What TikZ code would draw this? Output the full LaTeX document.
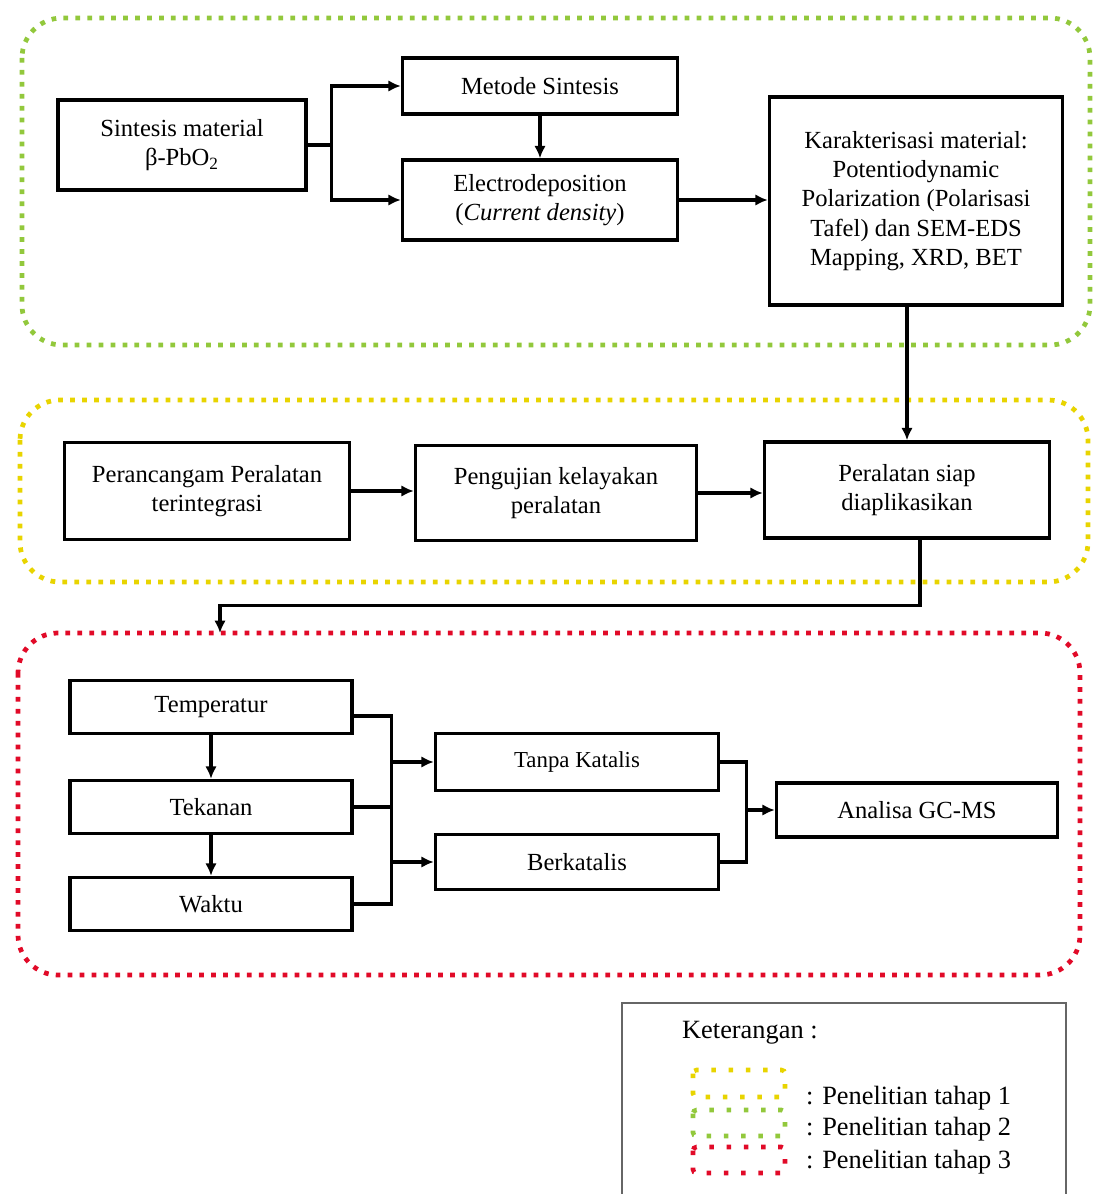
\documentclass[tikz,border=0pt]{standalone}
\usepackage{fontspec}
\setmainfont{Liberation Serif}
\usetikzlibrary{arrows.meta}
\definecolor{hijau}{RGB}{146,200,60}
\definecolor{kuning}{RGB}{232,212,0}
\definecolor{merah}{RGB}{225,10,40}
\tikzset{
  blok/.style={draw, line width=2pt, align=center, inner sep=2pt,
    font=\fontsize{14}{16.7}\selectfont},
  garis/.style={line width=1.9pt},
  panah/.style={line width=1.9pt, -{Latex[length=7pt,width=6.5pt]}},
  bingkai/.style={line width=2.7pt, dash pattern=on 2.7pt off 4.1pt, rounded corners=0.8cm},
  contoh/.style={line width=2.6pt, dash pattern=on 2.6pt off 7.2pt, rounded corners=2pt},
}
\begin{document}
\begin{tikzpicture}[x=0.02cm, y=-0.02cm]
  \useasboundingbox (0,0) rectangle (1096,1194);
  % frames
  \draw[bingkai, hijau] (22,18) rectangle (1090,345);
  \draw[bingkai, kuning] (20,400) rectangle (1088,582);
  \draw[bingkai, merah] (18,633) rectangle (1080,975);

  % tahap 2
  \node[blok, minimum width=4.96cm, minimum height=1.8cm] (sintesis) at (182,145)
    {Sintesis material\\ β-PbO\textsubscript{2}};
  \node[blok, minimum width=5.5cm, minimum height=1.12cm] (metode) at (540,86) {Metode Sintesis};
  \node[blok, minimum width=5.5cm, minimum height=1.6cm] (elektro) at (540,200)
    {Electrodeposition\\ (\textit{Current density})};
  \node[blok, minimum width=5.86cm, minimum height=4.16cm] (karakter) at (916,201)
    {Karakterisasi material:\\ Potentiodynamic\\ Polarization (Polarisasi\\ Tafel) dan SEM-EDS\\ Mapping, XRD, BET};
  \draw[garis] (sintesis.east) -- ++(24,0) coordinate (cabang);
  \draw[panah] (cabang) |- (metode.west);
  \draw[panah] (cabang) |- (elektro.west);
  \draw[panah] (metode.south) -- (elektro.north);
  \draw[panah] (elektro.east) -- (elektro.east -| karakter.west);

  % tahap 1
  \node[blok, minimum width=5.7cm, minimum height=1.94cm] (rancang) at (207,491)
    {Perancangam Peralatan\\ terintegrasi};
  \node[blok, minimum width=5.62cm, minimum height=1.9cm] (uji) at (556,493)
    {Pengujian kelayakan\\ peralatan};
  \node[blok, minimum width=5.7cm, minimum height=1.92cm] (siap) at (907,490)
    {Peralatan siap\\ diaplikasikan};
  \draw[panah] (siap.north |- karakter.south) -- (siap.north);
  \draw[panah] (rancang.east) -- (rancang.east -| uji.west);
  \draw[panah] (uji.east) -- (uji.east -| siap.west);
  \coordinate (masuk) at (220,633);
  \draw[panah] ([xshift=0.26cm]siap.south) -- ++(0,66) -| (masuk);

  % tahap 3
  \node[blok, minimum width=5.64cm, minimum height=1.06cm] (suhu) at (211,707) {Temperatur};
  \node[blok, minimum width=5.64cm, minimum height=1.06cm] (tekanan) at (211,807) {Tekanan};
  \node[blok, minimum width=5.64cm, minimum height=1.06cm] (waktu) at (211,904) {Waktu};
  \node[blok, minimum width=5.66cm, minimum height=1.14cm, font=\fontsize{13}{15}\selectfont] (tanpa) at (577,762) {Tanpa Katalis};
  \node[blok, minimum width=5.66cm, minimum height=1.1cm] (katalis) at (577,862) {Berkatalis};
  \node[blok, minimum width=5.62cm, minimum height=1.08cm] (gcms) at (917,810) {Analisa GC-MS};
  \draw[panah] (suhu.south) -- (tekanan.north);
  \draw[panah] (tekanan.south) -- (waktu.north);
  \draw[garis] ([yshift=-0.18cm]suhu.east) -- ++(38,0) coordinate (kiri) -- (kiri |- waktu.east) -- (waktu.east);
  \draw[garis] (tekanan.east) -- (tekanan.east -| kiri);
  \draw[panah] (kiri |- tanpa.west) -- (tanpa.west);
  \draw[panah] (kiri |- katalis.west) -- (katalis.west);
  \draw[garis] (tanpa.east) -- ++(26,0) coordinate (kanan) -- (kanan |- katalis.east) -- (katalis.east);
  \draw[panah] (kanan |- gcms.west) -- (gcms.west);

  % keterangan
  \draw[line width=1.4pt, black!60] (622,1210) -- (622,1003) -- (1066,1003) -- (1066,1210);
  \node[anchor=west, font=\fontsize{15}{18}\selectfont] (ket) at (676,1033) {Keterangan :};
  \draw[contoh, kuning] (693,1070) rectangle (785,1097);
  \draw[contoh, hijau] (693,1110) rectangle (785,1136);
  \draw[contoh, merah] (693,1147) rectangle (785,1173);
  \node[anchor=west, font=\fontsize{15}{18}\selectfont] (tahap1) at (800,1098) {: Penelitian tahap 1};
  \node[anchor=west, font=\fontsize{15}{18}\selectfont] (tahap2) at (800,1129) {: Penelitian tahap 2};
  \node[anchor=west, font=\fontsize{15}{18}\selectfont] (tahap3) at (800,1162) {: Penelitian tahap 3};
\end{tikzpicture}
\end{document}
